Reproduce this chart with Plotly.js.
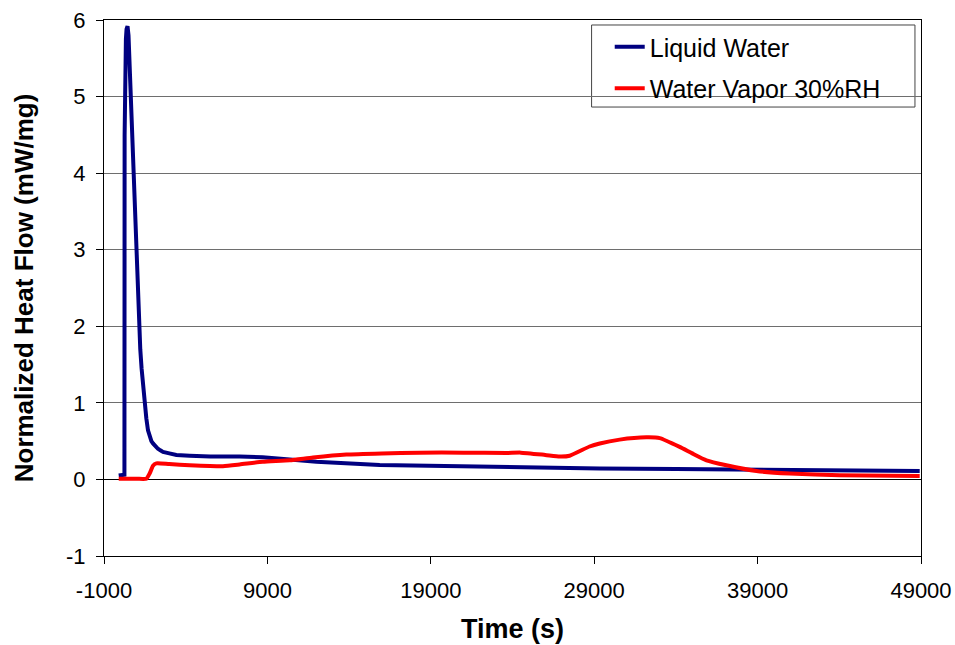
<!DOCTYPE html>
<html>
<head>
<meta charset="utf-8">
<script src="https://cdn.plot.ly/plotly-3.0.1.min.js"></script>
<style>html,body{margin:0;padding:0;background:#fff;}#chart{width:955px;height:645px;}</style>
</head>
<body>
<div id="chart"></div>
<script>
// Liquid Water series (time in s, heat flow in mW/mg)
const liquidTime = [-100, 150, 250, 262, 300, 340, 380, 440, 500, 570, 634, 700, 775, 860, 940, 1000, 1070, 1142, 1220, 1300, 1400, 1491, 1590, 1693, 1800, 1900, 1999, 2150, 2300, 2450, 2611, 3000, 3431, 4245, 5500, 7300, 8710, 10365, 12000, 15870, 19000, 21990, 26000, 29340, 34000, 37900, 43000, 48920];
const liquidFlow = [0.05, 0.05, 0.06, 4.5, 5.5, 5.75, 5.88, 5.92, 5.8, 5.4, 4.96, 4.5, 4.0, 3.5, 3.0, 2.62, 2.3, 2.0, 1.7, 1.45, 1.2, 1.0, 0.8, 0.64, 0.56, 0.50, 0.47, 0.43, 0.40, 0.38, 0.36, 0.34, 0.32, 0.31, 0.30, 0.30, 0.29, 0.26, 0.23, 0.19, 0.18, 0.16, 0.15, 0.143, 0.135, 0.13, 0.12, 0.11];

// Water Vapor 30%RH series
const vaporTime = [-100, 1000, 1595, 1800, 2000, 2207, 3000, 4245, 6280, 7300, 8710, 10365, 11790, 13830, 16000, 18320, 21000, 23630, 24500, 26000, 26890, 27500, 28720, 29340, 30560, 32190, 33010, 34230, 35000, 35870, 37090, 38930, 40960, 44020, 48920];
const vaporFlow = [0.01, 0.01, 0.01, 0.08, 0.18, 0.21, 0.20, 0.186, 0.173, 0.195, 0.23, 0.25, 0.286, 0.325, 0.34, 0.35, 0.35, 0.345, 0.35, 0.32, 0.30, 0.31, 0.43, 0.47, 0.52, 0.55, 0.54, 0.425, 0.34, 0.25, 0.185, 0.11, 0.077, 0.055, 0.046];

const seriesNames = ["Liquid Water", "Water Vapor 30%RH"];

// Tick labels
const xTickVals = [-1000, 9000, 19000, 29000, 39000, 49000];
const xTickText = ["-1000", "9000", "19000", "29000", "39000", "49000"];
const yTickVals = [-1, 0, 1, 2, 3, 4, 5, 6];
const yTickText = ["-1", "0", "1", "2", "3", "4", "5", "6"];

const xTitle = "Time (s)";
const yTitle = "Normalized Heat Flow (mW/mg)";

const FONT = "Liberation Sans, Arial, Helvetica, sans-serif";

const traces = [
  {x: liquidTime, y: liquidFlow, name: seriesNames[0], type: "scatter", mode: "lines",
   line: {color: "#000080", width: 4}, legendgroup: "a"},
  {x: vaporTime, y: vaporFlow, name: seriesNames[1], type: "scatter", mode: "lines",
   line: {color: "#FF0000", width: 4, shape: "spline", smoothing: 0.5}, legendgroup: "b"}
];

const layout = {
  width: 955, height: 645,
  margin: {l: 104, r: 34, t: 20, b: 89},
  paper_bgcolor: "#ffffff", plot_bgcolor: "#ffffff",
  font: {family: FONT, color: "#000"},
  showlegend: true,
  legend: {
    x: 0.619, y: 0.9925, xanchor: "left", yanchor: "top",
    bgcolor: "rgba(0,0,0,0)", borderwidth: 0,
    font: {family: FONT, size: 25, color: "#000"},
    traceorder: "grouped", tracegroupgap: 6
  },
  shapes: [{
    type: "rect", xref: "paper", yref: "paper",
    x0: 0.5968, x1: 0.9926, y0: 0.8376, y1: 0.9907,
    line: {color: "#444", width: 1}, fillcolor: "rgba(0,0,0,0)", layer: "below"
  }],
  xaxis: {
    range: [-1000, 49000],
    tickvals: xTickVals, ticktext: xTickText,
    ticks: "outside", ticklen: 7, tickcolor: "#000", tickwidth: 1,
    ticklabelstandoff: 8,
    showgrid: false, zeroline: false,
    showline: true, linecolor: "#000", linewidth: 1, mirror: true,
    tickfont: {family: FONT, size: 22, color: "#000"},
    title: {text: xTitle, font: {family: FONT, size: 27, weight: "bold", color: "#000"}, standoff: 16}
  },
  yaxis: {
    range: [-1, 6],
    tickvals: yTickVals, ticktext: yTickText,
    ticks: "outside", ticklen: 7, tickcolor: "#000", tickwidth: 1,
    ticklabelstandoff: 6,
    showgrid: true, gridcolor: "#6e6e6e", gridwidth: 1,
    zeroline: true, zerolinecolor: "#000", zerolinewidth: 1,
    showline: true, linecolor: "#000", linewidth: 1, mirror: true,
    tickfont: {family: FONT, size: 22, color: "#000"},
    title: {text: yTitle, font: {family: FONT, size: 26, weight: "bold", color: "#000"}, standoff: 24}
  }
};

Plotly.newPlot("chart", traces, layout, {staticPlot: true, displayModeBar: false});
</script>
</body>
</html>
